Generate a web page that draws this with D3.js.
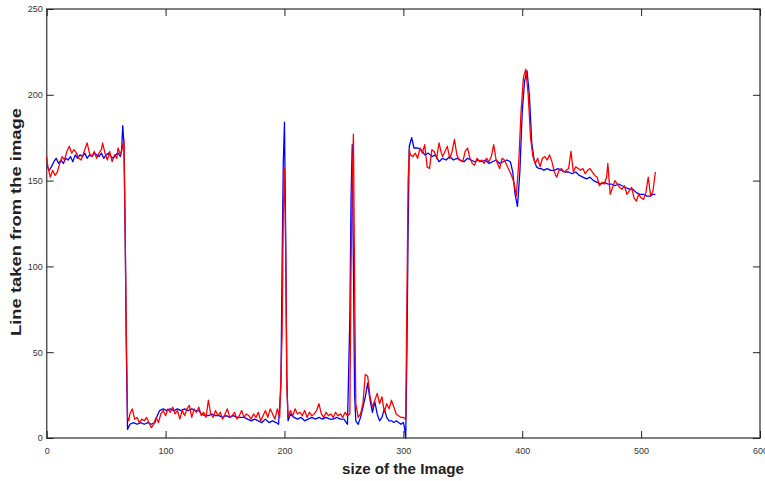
<!DOCTYPE html>
<html><head><meta charset="utf-8">
<script src="https://cdn.jsdelivr.net/npm/d3@7"></script>
<style>body{margin:0;background:#fff}svg{display:block}</style>
</head><body>
<svg id="c" width="765" height="481"></svg>
<script>
const xTicks = [0,100,200,300,400,500,600];
const yTicks = [0,50,100,150,200,250];
const xLabel = "size of the Image";
const yLabel = "Line taken from the image";

const blueIndex = [0,2,4,6,8,10,12,14,16,18,20,22,24,26,28,30,32,34,36,38,40,42,44,46,48,50,52,54,56,58,60,62,63,64,65,66,67,68,
70,73,76,79,82,85,88,91,93,95,98,101,104,107,110,113,116,119,122,125,128,130,133,136,139,142,145,148,151,154,157,160,163,166,169,172,175,178,181,184,187,190,193,195,197,198,199,200,201,202,203,
205,208,211,214,217,220,223,226,229,232,235,238,241,244,247,250,253,255,256,257,258,259,260,262,264,266,268,270,272,274,276,278,280,282,284,286,288,290,292,294,296,298,300,301,302,303,304,305,307,309,
312,315,318,321,324,327,330,333,336,339,342,345,348,351,354,357,360,363,366,369,372,375,378,381,384,387,390,392,394,396,398,400,402,404,406,408,410,
412,414,416,418,421,424,427,430,433,436,439,442,445,448,451,454,457,460,463,466,469,472,475,478,481,484,487,490,493,496,499,502,505,508,510,512];
const blueValues = [159,156,158,161,163,160,162,160,163,162,164,161,165,163,165,164,166,163,165,164,166,165,164,166,163,165,166,164,163,165,166,164,168,182,170,120,50,5,
8,9,8,9,8,9,8,9,13,16,17,16,17,16,17,16,17,16,17,16,16,14,13,13,14,13,13,12,13,12,13,12,12,12,11,10,11,10,9,11,9,10,9,8,30,100,160,184,120,35,10,
14,12,11,12,10,11,12,11,12,11,12,11,11,12,11,11,8,70,140,171,100,25,10,8,12,18,24,32,22,15,21,14,10,12,17,12,10,10,9,10,9,8,9,6,0,50,120,170,175,169,
169,168,165,166,164,165,161,163,162,164,162,163,162,161,163,162,161,162,161,162,160,161,162,160,161,162,161,155,142,135,155,190,208,214,200,172,162,
158,157,157,156,157,156,156,157,156,155,155,154,155,153,152,151,152,150,149,148,149,148,148,147,148,147,146,145,145,143,142,142,141,141,142,142];

const redIndex = [0,1,3,5,7,9,11,13,15,17,19,21,23,25,27,29,31,33,34,36,38,40,42,44,46,47,49,51,53,55,57,59,60,62,63,65,66,67,68,
69,70,72,74,76,78,80,82,84,86,88,90,92,94,96,98,100,102,104,106,108,110,112,114,116,118,120,122,124,126,128,130,132,134,136,138,140,142,144,146,148,150,152,154,156,158,160,162,164,166,168,170,172,174,176,178,180,182,184,186,188,190,192,194,196,198,199,200,201,202,203,
205,207,209,211,213,215,217,219,221,223,225,227,229,231,233,235,237,239,241,243,245,247,249,251,253,255,256,257,258,259,260,262,264,266,268,270,272,274,276,278,280,282,284,286,288,290,292,294,296,298,300,302,303,304,305,
306,308,310,312,314,316,318,320,322,324,326,328,330,332,333,335,337,339,341,343,345,347,350,352,354,356,358,360,362,364,366,368,370,372,374,376,378,381,383,385,387,389,391,393,395,397,399,401,403,405,407,409,
411,413,415,417,419,421,423,425,427,429,431,433,435,437,439,441,443,445,447,449,451,453,455,457,459,461,463,465,467,469,471,472,474,476,478,480,482,484,486,488,490,492,494,496,498,500,502,504,506,508,510,512];
const redValues = [164,158,152,156,153,155,160,164,162,167,170,166,168,166,163,162,166,170,172,166,164,167,163,166,168,172,166,162,167,161,165,163,169,165,167,174,120,60,12,
10,14,17,11,12,9,11,10,12,9,6,8,12,9,14,16,13,17,15,18,14,16,11,16,13,17,19,12,17,15,18,13,15,12,22,14,12,16,13,15,11,14,17,12,13,15,11,13,16,12,14,13,11,14,12,15,10,13,16,12,17,14,11,17,12,60,130,157,110,30,12,
16,13,17,14,15,13,16,12,15,13,14,16,20,14,12,15,13,14,12,15,13,14,12,15,13,14,100,150,177,90,20,12,14,20,37,36,24,18,22,26,20,24,15,20,17,22,18,14,13,12,12,11,80,150,168,
165,164,166,163,169,166,171,158,157,168,167,163,172,166,164,167,170,163,167,174,165,162,161,167,169,163,160,159,163,161,162,160,163,161,164,171,162,157,163,162,159,156,153,149,141,160,190,210,215,200,175,164,
160,163,158,163,164,162,165,161,155,152,156,157,155,156,157,167,155,158,157,156,157,154,156,157,155,153,152,147,149,148,152,160,142,146,150,148,146,145,147,142,144,146,140,138,142,140,139,143,152,141,144,155];

const svg = d3.select("#c");
const x = d3.scaleLinear().domain([0,600]).range([46.7,760]);
const y = d3.scaleLinear().domain([0,250]).range([438,9]);
const axisColor = "#555";
const tickLen = 7;

// box
svg.append("rect").attr("x", x(0)).attr("y", y(250)).attr("width", x(600)-x(0)).attr("height", y(0)-y(250))
  .attr("fill","none").attr("stroke",axisColor).attr("stroke-width",1.5);

// lines
const blueData = blueIndex.map((d,i)=>[d, blueValues[i]]);
const redData = redIndex.map((d,i)=>[d, redValues[i]]);
const lineGen = d3.line().x(d=>x(d[0])).y(d=>y(d[1]));
svg.append("path").datum(blueData).attr("d",lineGen).attr("fill","none").attr("stroke","#0000ff").attr("stroke-width",1.3).attr("stroke-linejoin","round");
svg.append("path").datum(redData).attr("d",lineGen).attr("fill","none").attr("stroke","#ff0000").attr("stroke-width",1.3).attr("stroke-linejoin","round");

// axes with inward ticks
const fontFam = "'Liberation Sans', Arial, Helvetica, sans-serif";
const gBottom = svg.append("g").attr("transform",`translate(0,${y(0)})`)
  .call(d3.axisBottom(x).tickValues(xTicks).tickSize(-tickLen).tickPadding(10).tickFormat(d3.format("d")));
const gTop = svg.append("g").attr("transform",`translate(0,${y(250)})`)
  .call(d3.axisTop(x).tickValues(xTicks).tickSize(-tickLen).tickFormat(""));
const gLeft = svg.append("g").attr("transform",`translate(${x(0)},0)`)
  .call(d3.axisLeft(y).tickValues(yTicks).tickSize(-tickLen).tickPadding(4).tickFormat(d3.format("d")));
const gRight = svg.append("g").attr("transform",`translate(${x(600)},0)`)
  .call(d3.axisRight(y).tickValues(yTicks).tickSize(-tickLen).tickFormat(""));
[gBottom,gTop,gLeft,gRight].forEach(g=>{
  g.select(".domain").remove();
  g.selectAll(".tick line").attr("stroke","#222").attr("stroke-width",1);
  g.selectAll(".tick text").attr("fill","#333").style("font-family",fontFam).style("font-size","9px");
});

// axis titles
svg.append("text").attr("x",403).attr("y",474).attr("text-anchor","middle")
  .style("font-family",fontFam).style("font-weight","bold").style("font-size","14px").attr("fill","#222")
  .attr("textLength",122).attr("lengthAdjust","spacingAndGlyphs").text(xLabel);
svg.append("text").attr("transform","translate(21,222) rotate(-90)").attr("text-anchor","middle")
  .style("font-family",fontFam).style("font-weight","bold").style("font-size","15px").attr("fill","#222")
  .attr("textLength",228).attr("lengthAdjust","spacingAndGlyphs").text(yLabel);
</script>
</body></html>
